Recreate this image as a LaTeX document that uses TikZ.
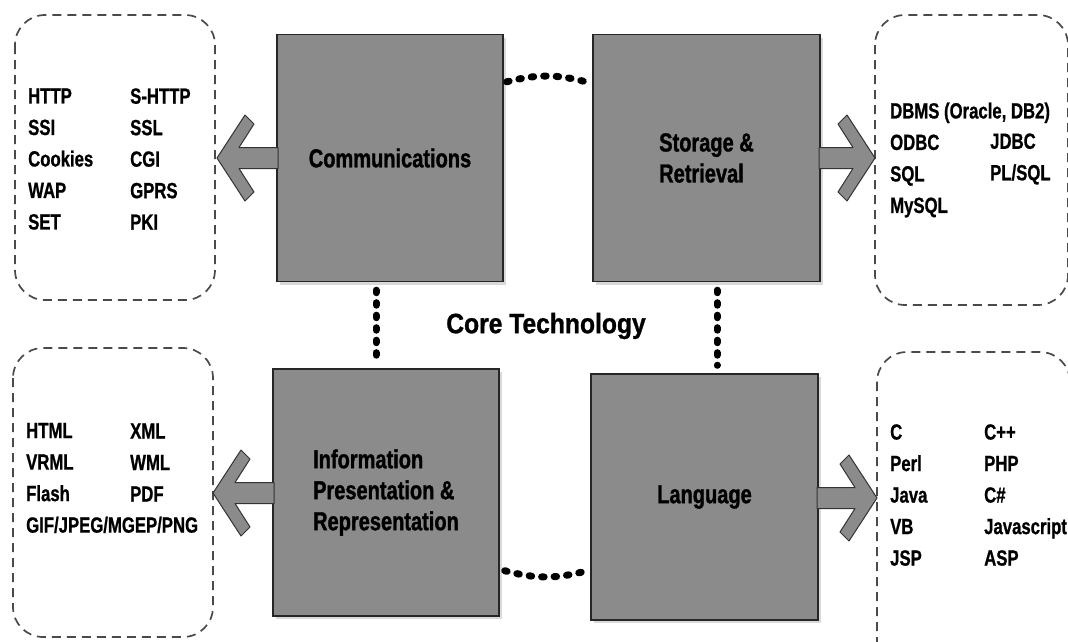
\documentclass[tikz,border=0pt]{standalone}
\usepackage{fontspec}
\setmainfont{Liberation Sans}
\newfontfamily\listfont{Liberation Sans}[FakeStretch=0.76,FakeBold=0.8]
\newfontfamily\labelfont{Liberation Sans}[FakeStretch=0.77,FakeBold=1.2]
\newfontfamily\corefont{Liberation Sans}[FakeStretch=0.88,FakeBold=1]
\usetikzlibrary{calc,shadows}
\definecolor{boxgray}{HTML}{8B8B8B}
\definecolor{edgegray}{HTML}{4A4A4A}
\tikzset{
  corebox/.style={draw=black!85, line width=1.4pt, fill=boxgray, minimum width=226pt, minimum height=247pt, inner sep=0pt,
    drop shadow={shadow xshift=3pt, shadow yshift=-3pt, fill=black!25, opacity=0.6},
    font=\labelfont\bfseries\fontsize{26}{31}\selectfont, align=left},
  listbox/.style={draw=edgegray, line width=1.7pt, dash pattern=on 9pt off 6pt, rounded corners=30pt},
  listtext/.style={inner sep=0pt, anchor=west, align=left, font=\listfont\bfseries\fontsize{22}{31.5}\selectfont},
  dotline/.style={black, line width=7pt, line cap=round, dash pattern=on 2.5pt off 10pt},
  bigarrow/.style={fill=boxgray, draw=black!80, line width=1pt, line join=round}
}
\begin{document}
\begin{tikzpicture}[x=1pt,y=-1pt]
\useasboundingbox (0,0) rectangle (1068,641);
% dashed list frames
\draw[listbox] (15,15) rectangle (215,300);
\draw[listbox] (875,15) rectangle (1068,305);
\draw[listbox] (13,348) rectangle (213,637);
\draw[listbox] (877,352) rectangle (1070,680);
% core boxes
\node[corebox] (comm) at (390,158) {Communications};
\node[corebox, minimum width=227pt] (stor) at (706.5,158) {Storage \&\\Retrieval};
\node[corebox] (info) at (386,492.5) {Information\\Presentation \&\\Representation};
\node[corebox, minimum width=227pt, minimum height=246pt] (lang) at (704.5,497) {Language};
% dotted links
\draw[dotline] ($(comm.north east)+(3,48)$) to[bend left=15] ($(stor.north west)+(-3,49)$);
\draw[dotline] ($(info.south east)+(5,-46)$) to[bend right=15] ($(lang.south west)+(-3,-50)$);
\coordinate (v1a) at ($(comm.south)+(-14,8)$);
\coordinate (v1b) at ($(v1a |- info.north)+(0,-8)$);
\coordinate (v2a) at ($(stor.south)+(10.5,8)$);
\coordinate (v2b) at ($(v2a |- lang.north)+(0,-8)$);
\draw[dotline] (v1a) -- (v1b);
\draw[dotline] (v2a) -- (v2b);
\node[font=\corefont\bfseries\fontsize{28}{32}\selectfont, inner sep=0pt] (core) at (546,326) {Core Technology};
% arrows
\coordinate (tl) at (217,158);
\coordinate (tr) at (875,158);
\coordinate (bl) at (213,493);
\coordinate (br) at (877,498);
\begin{scope}[shift={(tl)}]
\draw[bigarrow] (0,0) -- (28,-43) -- (37,-34) -- (22,-10.5) -- (61,-10.5) -- (61,10.5) -- (22,10.5) -- (37,34) -- (28,43) -- cycle;
\end{scope}
\begin{scope}[shift={(bl)}]
\draw[bigarrow] (0,0) -- (28,-43) -- (37,-34) -- (22,-10.5) -- (61,-10.5) -- (61,10.5) -- (22,10.5) -- (37,34) -- (28,43) -- cycle;
\end{scope}
\begin{scope}[shift={(tr)}, xscale=-1]
\draw[bigarrow] (0,0) -- (28,-43) -- (37,-34) -- (22,-10.5) -- (56,-10.5) -- (56,10.5) -- (22,10.5) -- (37,34) -- (28,43) -- cycle;
\end{scope}
\begin{scope}[shift={(br)}, xscale=-1]
\draw[bigarrow] (0,0) -- (28,-43) -- (37,-34) -- (22,-10.5) -- (60,-10.5) -- (60,10.5) -- (22,10.5) -- (37,34) -- (28,43) -- cycle;
\end{scope}
% lists
\node[listtext] (tla) at (28,159) {HTTP\\SSI\\Cookies\\WAP\\SET};
\node[listtext] (tlb) at (130,159) {S-HTTP\\SSL\\CGI\\GPRS\\PKI};
\node[listtext] (tra) at (890,160) {DBMS (Oracle, DB2)\\ODBC\\SQL\\MySQL};
\node[listtext] (trb) at (990,159) {JDBC\\PL/SQL};
\node[listtext] (bla) at (26,478) {HTML\\VRML\\Flash\\GIF/JPEG/MGEP/PNG};
\node[listtext] (blb) at (130,462.5) {XML\\WML\\PDF};
\node[listtext] (bra) at (890,495) {C\\Perl\\Java\\VB\\JSP};
\node[listtext] (brb) at (984,495) {C++\\PHP\\C\#\\Javascript\\ASP};
\end{tikzpicture}
\end{document}
